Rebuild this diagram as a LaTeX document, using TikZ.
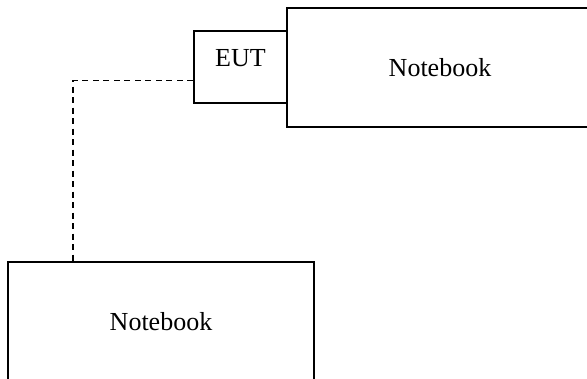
\documentclass[tikz,border=0pt]{standalone}
\usepackage{fontspec}
\setmainfont{Liberation Serif}
\usetikzlibrary{positioning}

\begin{document}
\begin{tikzpicture}[x=1pt,y=-1pt,
    box/.style={draw, line width=1.7pt, inner sep=0pt, font=\fontsize{26}{30}\selectfont},
    cable/.style={line width=1.5pt, dash pattern=on 6pt off 4.5pt}]
            \useasboundingbox (0,0) rectangle (587,378);
            \clip (0,0) rectangle (587,378);
            \node[box, minimum width=306pt, minimum height=119pt] (N) at (440,67.7) {Notebook};
            \node[box, minimum width=93pt, minimum height=72pt, text height=17pt, text depth=18pt] (E) at (240.5,66.7) {EUT};
            \node[box, minimum width=306pt, minimum height=119pt] (M) at (161,321.5) {Notebook};
            \coordinate (A) at ([yshift=-14pt]E.west);
            \coordinate (B) at ([xshift=66pt]M.north west);
            \draw[cable] (A) -| (B);
        \end{tikzpicture}
\end{document}
